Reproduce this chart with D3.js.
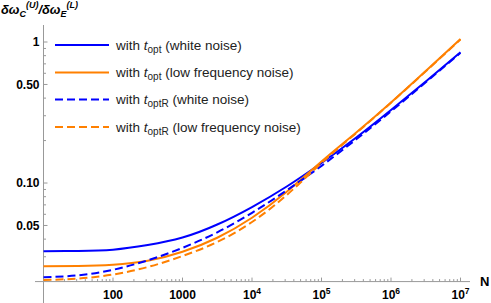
<!DOCTYPE html>
<html>
<head>
<meta charset="utf-8">
<script src="https://cdnjs.cloudflare.com/ajax/libs/d3/7.8.5/d3.min.js"></script>
<style>
  body { margin: 0; background: #fff; }
  svg { display: block; font-family: "Liberation Sans", Arial, sans-serif; }
</style>
</head>
<body>
<svg id="chart" width="491" height="303"></svg>
<script>
// N values (log-spaced, half decades)
const nValues = [1e1, 10 ** 1.5, 1e2, 10 ** 2.5, 1e3, 10 ** 3.5, 1e4, 10 ** 4.5, 1e5, 10 ** 5.5, 1e6, 10 ** 6.5, 1e7];

// ratio
const optWhite  = [0.0328, 0.0330, 0.0337, 0.03633, 0.04106, 0.05078, 0.06759, 0.09444, 0.1386, 0.2102, 0.3295, 0.5247, 0.8452];
const optLow    = [0.02566, 0.02578, 0.02634, 0.02812, 0.03257, 0.04093, 0.05675, 0.08676, 0.1421, 0.2282, 0.3724, 0.6226, 1.0502];
const optRWhite = [0.02145, 0.02215, 0.02424, 0.0283, 0.0347, 0.04471, 0.06147, 0.08875, 0.1324, 0.2042, 0.3225, 0.5179, 0.8385];
const optRLow   = [0.02051, 0.02102, 0.02245, 0.02537, 0.03036, 0.03816, 0.05289, 0.0822, 0.1386, 0.2263, 0.3712, 0.6196, 1.0416];

const seriesList = [
  { name: "opt",  tail: " (white noise)",          values: optWhite,  color: "#0000ff", dash: null },
  { name: "opt",  tail: " (low frequency noise)",  values: optLow,    color: "#ff8000", dash: null },
  { name: "optR", tail: " (white noise)",          values: optRWhite, color: "#0000ff", dash: "8,4" },
  { name: "optR", tail: " (low frequency noise)",  values: optRLow,   color: "#ff8000", dash: "8,4" }
];

const yMajor = [0.05, 0.1, 0.5, 1];
const yMajorLabels = ["0.05", "0.10", "0.50", "1"];
const yMinor = [0.03, 0.04, 0.06, 0.07, 0.08, 0.09, 0.2, 0.3, 0.4, 0.6, 0.7, 0.8, 0.9];
const xMajor = [1e2, 1e3, 1e4, 1e5, 1e6, 1e7];

const axisColor = "#999";
const svg = d3.select("#chart");

let x = d3.scaleLog().domain([10, 1e7]).range([43.5, 460.5]);
let y = d3.scaleLog().domain([0.0141, 1.32]).range([303, 25]);
const xAxisY = y(0.02);

// axes
svg.append("line").attr("x1", x(10)).attr("x2", x(10)).attr("y1", 25).attr("y2", 303)
  .attr("stroke", axisColor).attr("stroke-width", 1);
svg.append("line").attr("x1", 35).attr("x2", 470).attr("y1", xAxisY).attr("y2", xAxisY)
  .attr("stroke", axisColor).attr("stroke-width", 1);

// y ticks
svg.selectAll(".ymaj").data(yMajor).enter().append("line")
  .attr("x1", x(10)).attr("x2", x(10) + 4)
  .attr("y1", d => y(d)).attr("y2", d => y(d))
  .attr("stroke", axisColor);
svg.selectAll(".ymin").data(yMinor).enter().append("line")
  .attr("x1", x(10)).attr("x2", x(10) + 2.5)
  .attr("y1", d => y(d)).attr("y2", d => y(d))
  .attr("stroke", axisColor);
svg.selectAll(".ylab").data(yMajor).enter().append("text")
  .attr("x", 39.5).attr("y", d => y(d) + 4.3)
  .attr("text-anchor", "end").attr("font-size", 12).attr("font-weight", "bold")
  .text((d, i) => yMajorLabels[i]);

// x ticks
let xMinor = [];
for (let k = 1; k < 7; k++) {
  for (let m = 2; m <= 9; m++) xMinor.push(m * 10 ** k);
}
svg.selectAll(".xmaj").data(xMajor).enter().append("line")
  .attr("x1", d => x(d)).attr("x2", d => x(d))
  .attr("y1", xAxisY).attr("y2", xAxisY - 4)
  .attr("stroke", axisColor);
svg.selectAll(".xmin").data(xMinor).enter().append("line")
  .attr("x1", d => x(d)).attr("x2", d => x(d))
  .attr("y1", xAxisY).attr("y2", xAxisY - 2.5)
  .attr("stroke", axisColor);

xMajor.forEach(d => {
  let e = Math.round(Math.log10(d));
  let t = svg.append("text").attr("x", x(d)).attr("y", 298.5)
    .attr("text-anchor", "middle").attr("font-size", 12).attr("font-weight", "bold");
  if (e <= 3) {
    t.text(String(d));
  } else {
    t.append("tspan").text("10");
    t.append("tspan").attr("font-size", 8.5).attr("dy", -5).text(String(e));
  }
});

svg.append("text").attr("x", 480).attr("y", 286)
  .attr("font-size", 13).attr("font-weight", "bold").text("N");

// y label
let yl = svg.append("text").attr("x", 1).attr("y", 13.5)
  .attr("font-size", 12.8).attr("font-weight", "bold").attr("font-style", "italic");
yl.append("tspan").text("δω");
yl.append("tspan").attr("font-size", 9).attr("dy", 3).text("C");
yl.append("tspan").attr("font-size", 9).attr("dy", -9).text("(U)");
yl.append("tspan").attr("dy", 6).text("/δω");
yl.append("tspan").attr("font-size", 9).attr("dy", 3).text("E");
yl.append("tspan").attr("font-size", 9).attr("dy", -9).text("(L)");

// curves
let line = d3.line()
  .x((d, i) => x(nValues[i]))
  .y(d => y(d))
  .curve(d3.curveNatural);

seriesList.forEach(s => {
  svg.append("path")
    .attr("d", line(s.values))
    .attr("fill", "none")
    .attr("stroke", s.color)
    .attr("stroke-width", 2)
    .attr("stroke-dasharray", s.dash);
});

// legend
const legendRows = [45, 72.5, 99.5, 127];
seriesList.forEach((s, i) => {
  let ly = legendRows[i];
  svg.append("line").attr("x1", 55).attr("x2", 109).attr("y1", ly).attr("y2", ly)
    .attr("stroke", s.color).attr("stroke-width", 2).attr("stroke-dasharray", s.dash);
  let t = svg.append("text").attr("x", 116).attr("y", ly + 4.7).attr("font-size", 13.5).attr("fill", "#222");
  t.append("tspan").text("with ");
  t.append("tspan").attr("font-style", "italic").text("t");
  t.append("tspan").attr("font-size", 10).attr("dy", 3).text(s.name);
  t.append("tspan").attr("dy", -3).text(s.tail);
});
</script>
</body>
</html>
